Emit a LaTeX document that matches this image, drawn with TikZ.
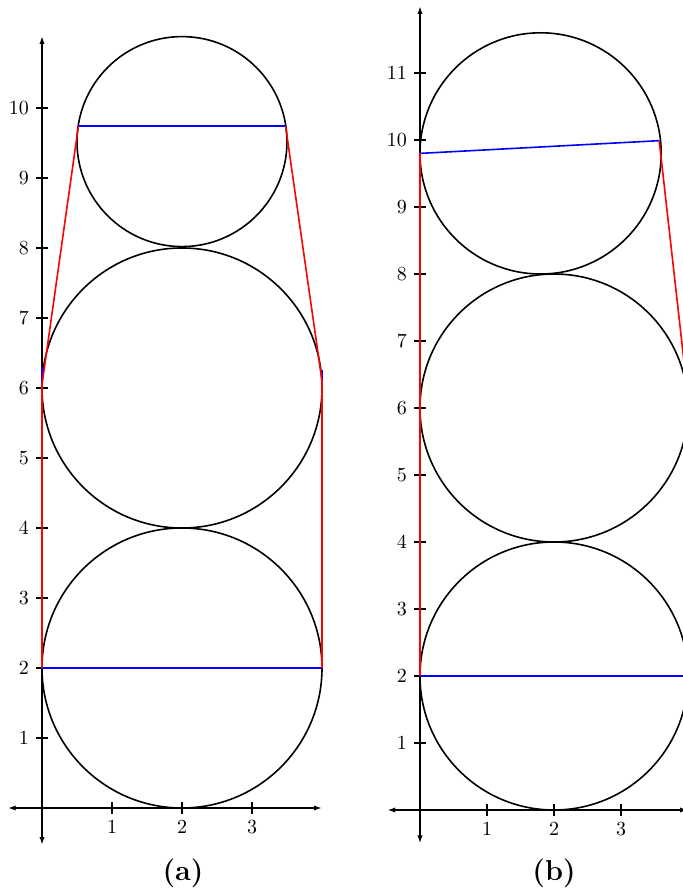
\documentclass[tikz,border=0pt]{standalone}
\usepackage{fontspec}
\usetikzlibrary{arrows.meta}
\tikzset{
	axisline/.style={thick,{Latex[length=4pt,width=2.6pt]}-{Latex[length=4pt,width=2.6pt]}},
	ring/.style={thick},
	tickmark/.style={semithick},
	belt/.style={thick,red},
	chord/.style={thick,blue},
	sublabel/.style={font=\Large\bfseries}
}

\begin{document}
\begin{tikzpicture}[x=0.5pt,y=0.5pt]
	\useasboundingbox (0,0) rectangle (683,891);
	% panel (a)
	\begin{scope}[shift={(21pt,41.5pt)},x=35pt,y=35pt]
		\draw[axisline] (-0.49,0)--(4.0,0);
		\draw[axisline] (0,-0.53)--(0,11.03);
		\foreach \i in {1,2,3} {
			\draw[tickmark] (\i,0) ++(0,-3pt) -- ++(0,6pt);
			\node[below] (xa\i) at ([yshift=-3pt]\i,0) {$\i$};
		}
		\foreach \i in {1,...,10} {
			\draw[tickmark] (0,\i) ++(-3pt,0) -- ++(6pt,0);
			\node[left] (ya\i) at ([xshift=-3pt]0,\i) {$\i$};
		}
		\draw[ring] (2,2) circle (2);
		\draw[ring] (2,6) circle (2);
		\draw[ring] (2,9.52) circle (1.5);
		\draw[chord] (0,2)--(4,2);
		\draw[chord] (0.52,9.74)--(3.48,9.74);
		\draw[chord] (0,6.05)--(0,6.3);
		\draw[chord] (4,6.1)--(4,6.25);
		\draw[belt] (0.52,9.74)--(0,6.05)--(0,2);
		\draw[belt] (3.48,9.74)--(4,6.1)--(4,2);
	\end{scope}
	\node[sublabel] (capa) at (183,18) {(a)};
	% panel (b)
	\begin{scope}
		\clip (0,0) rectangle (683,891);
		\begin{scope}[shift={(210pt,40.5pt)},x=33.5pt,y=33.5pt]
			\draw[axisline] (-0.49,0)--(4.0,0);
			\draw[axisline] (0,-0.5)--(0,12.0);
			\foreach \i in {1,2,3} {
				\draw[tickmark] (\i,0) ++(0,-3pt) -- ++(0,6pt);
				\node[below] (xb\i) at ([yshift=-3pt]\i,0) {$\i$};
			}
			\foreach \i in {1,...,11} {
				\draw[tickmark] (0,\i) ++(-3pt,0) -- ++(6pt,0);
				\node[left] (yb\i) at ([xshift=-3pt]0,\i) {$\i$};
			}
			\draw[ring] (2,2) circle (2);
			\draw[ring] (2,6) circle (2);
			\draw[ring] (1.8,9.8) circle (1.8);
			\draw[chord] (0,2)--(4.2,2);
			\draw[chord] (0,9.8)--(3.57,9.99);
			\draw[belt] (0,2)--(0,9.8);
			\draw[belt] (3.57,9.99)--(4,6.16);
		\end{scope}
	\end{scope}
	\node[sublabel] (capb) at (554,18) {(b)};
\end{tikzpicture}
\end{document}
